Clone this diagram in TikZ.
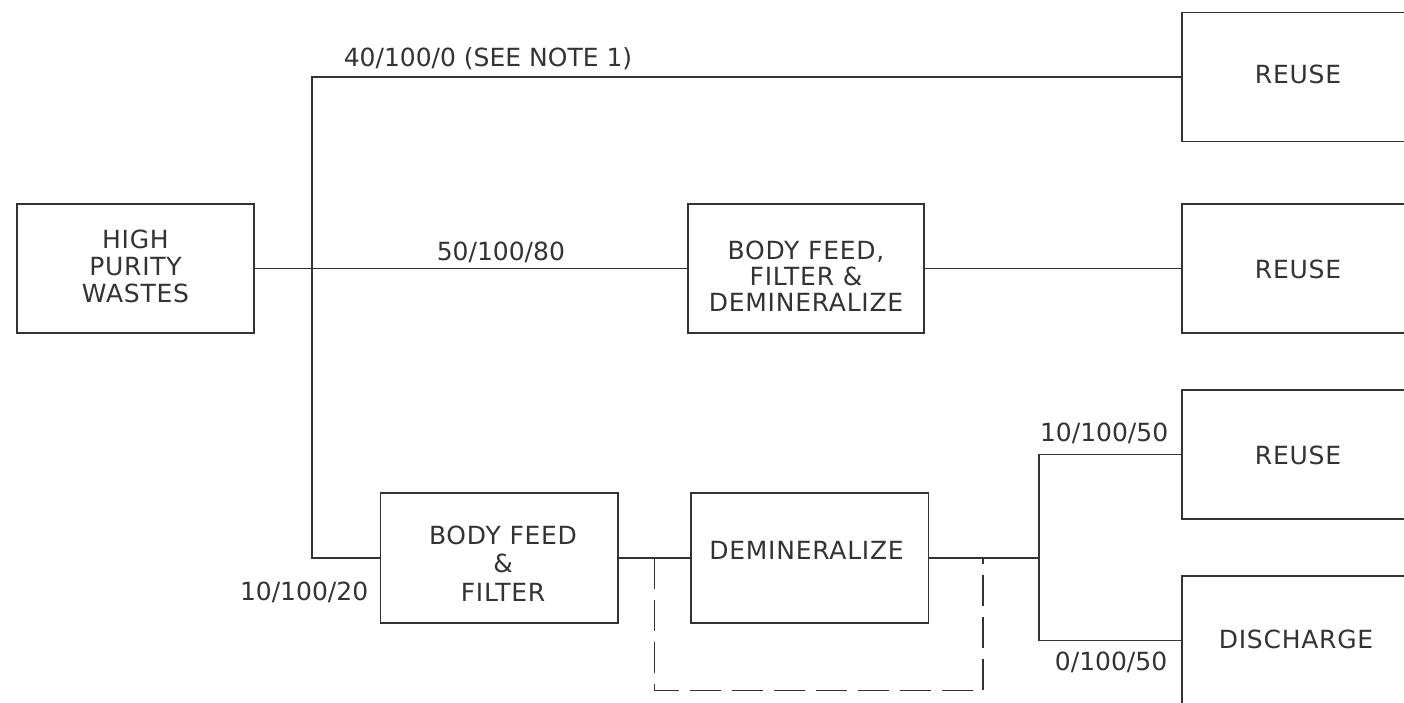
\documentclass[tikz,border=0pt]{standalone}
\usepackage{fontspec}
\setmainfont{DejaVu Sans}[LetterSpace=3]
\newfontfamily\lblfont{DejaVu Sans}
\begin{document}
\begin{tikzpicture}[x=1pt,y=-1pt,
  line width=1.6pt,
  ln/.style={draw=black!80, line width=1.6pt},
  box/.style={draw=black!80, line width=1.6pt, rectangle, minimum width=237pt, minimum height=129pt, inner sep=0pt, outer sep=0pt, anchor=north west},
  txt/.style={font=\fontsize{25}{27}\selectfont, text=black!80, inner sep=0pt, align=center},
  lbl/.style={font=\lblfont\fontsize{25}{27}\selectfont, text=black!80, inner sep=0pt},
  bypass/.style={draw=black!80, line width=1.6pt, dash pattern=on 31pt off 11pt}]
\useasboundingbox (0,0) rectangle (1404,703);
\clip (0,0) rectangle (1404,703);
% boxes
\node[box] (hpw) at (17,204) {};
\node[box, minimum width=236pt] (bfd) at (688,204) {};
\node[box] (r1) at (1182,12.5) {};
\node[box] (r2) at (1182,204) {};
\node[box] (r3) at (1182,390) {};
\node[box] (dis) at (1182,576) {};
\node[box, minimum width=237.5pt, minimum height=130pt] (bff) at (380.5,493) {};
\node[box, minimum width=237.5pt, minimum height=130pt] (dem) at (691,493) {};
% box texts
\node[txt, anchor=north] (thpw) at (135.5,228.9) {HIGH\\PURITY\\WASTES};
\node[txt, anchor=north, font=\fontsize{25}{26}\selectfont] (tbfd) at (806,239.9) {BODY FEED,\\FILTER \&\\DEMINERALIZE};
\node[txt, anchor=north, font=\fontsize{25}{28.5}\selectfont] (tbff) at (503,524.9) {BODY FEED\\\&\\FILTER};
\node[txt, anchor=base] (tdem) at (806.5,559.7) {DEMINERALIZE};
\node[txt, anchor=base] (tr1) at (1298,83.1) {REUSE};
\node[txt, anchor=base] (tr2) at (1298,278.1) {REUSE};
\node[txt, anchor=base] (tr3) at (1298,464.1) {REUSE};
\node[txt, anchor=base] (tdis) at (1296,648.1) {DISCHARGE};
% flow labels
\node[lbl, anchor=base west] (l1) at (343,66.5) {40/100/0 (SEE NOTE 1)};
\node[lbl, anchor=base west] (l2) at (436,260) {50/100/80};
\node[lbl, anchor=base east] (l3) at (369,600) {10/100/20};
\node[lbl, anchor=base east] (l4) at (1169,441) {10/100/50};
\node[lbl, anchor=base east] (l5) at (1168,670) {0/100/50};
% connectors
\coordinate (jb) at (312,558);
\coordinate (js) at (1039,558);
\coordinate (dl) at (654.5,558);
\coordinate (dr) at (983,558);
\draw[ln] (r1.west) -| (jb) -- (bff.west);
\draw[ln] (hpw.east) -- (bfd.west);
\draw[ln] (bfd.east) -- (r2.west);
\draw[ln] (bff.east) -- (dem.west);
\draw[ln] (dem.east) -- (js);
\draw[ln] (r3.west) -| (js) |- (dis.west);
\draw[bypass] (dl) -- ++(0,132.5) -| (dr);
\end{tikzpicture}
\end{document}
